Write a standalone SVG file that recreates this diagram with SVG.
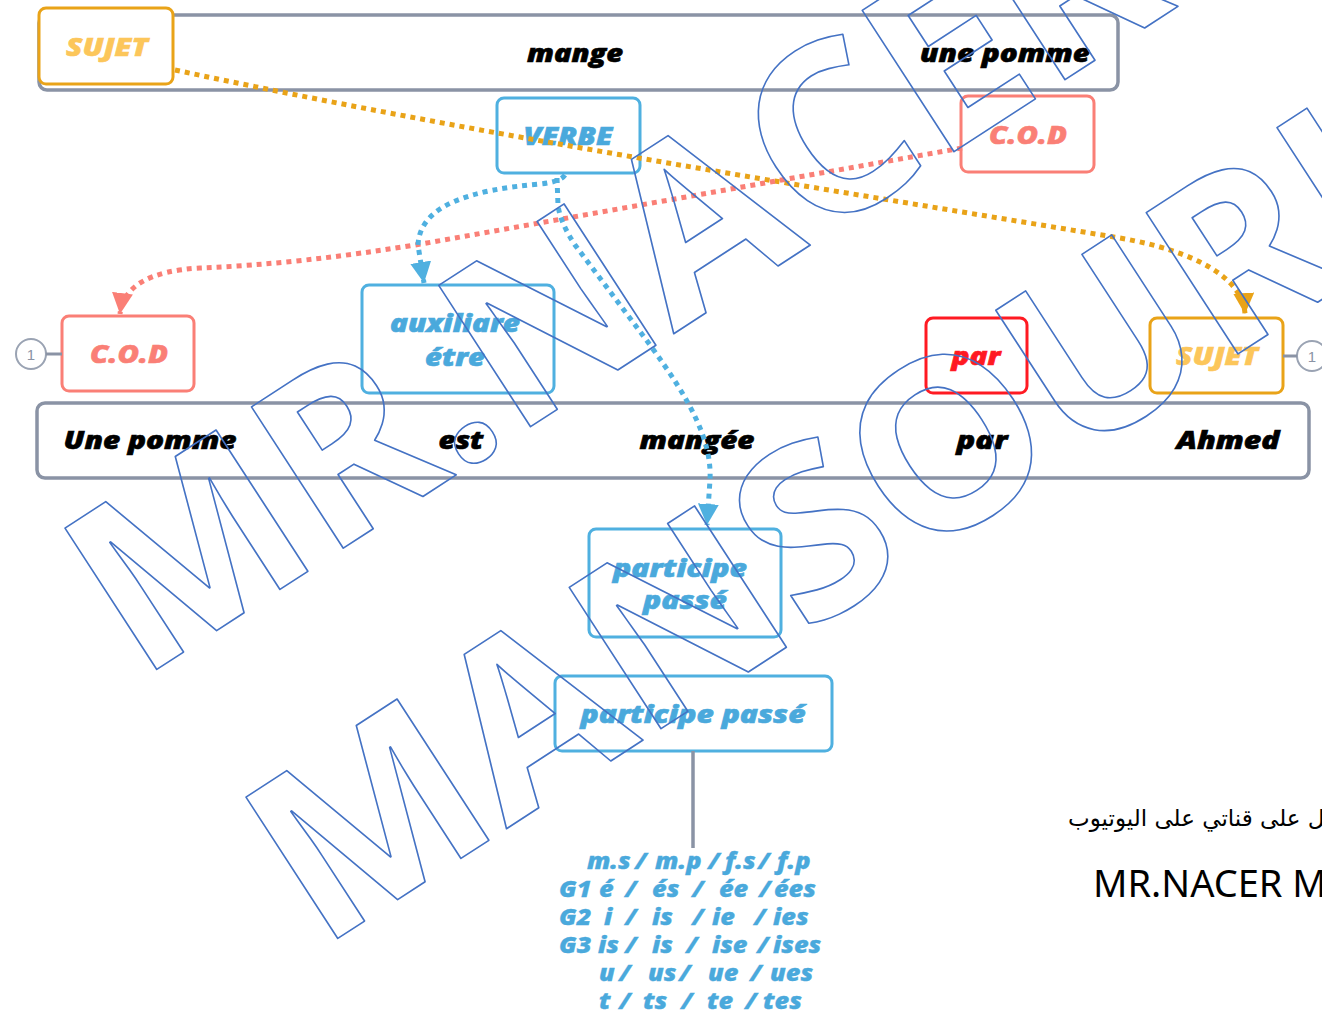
<svg xmlns="http://www.w3.org/2000/svg" width="1322" height="1016" viewBox="0 0 1322 1016">
<defs>
<style>
.t{font-family:"Open Sans","Liberation Sans",sans-serif;font-weight:800;font-style:italic;text-anchor:middle}
.w{font-size:24px;fill:#000;stroke:#000;stroke-width:0.6}
.sent{fill:#fff;stroke:#8a93a5;stroke-width:3.5}
.box{fill:#fff;stroke-width:3}
.or{stroke:#e9a318}
.bl{stroke:#4fb0e0}
.sa{stroke:#fa7f76}
.rd{stroke:#ff1a22}
.tor{fill:#fcc65a;stroke:#fcc65a;stroke-width:0.6}
.tbl{fill:#4aa9dc;stroke:#4aa9dc;stroke-width:0.6}
.tsa{fill:#fa7f76;stroke:#fa7f76;stroke-width:0.6}
.trd{fill:#ff1a22;stroke:#ff1a22;stroke-width:0.6}
.dot{fill:none;stroke-width:5;stroke-dasharray:5 5}
.num{fill:#fff;stroke:#9aa3b3;stroke-width:2}
.numt{font-family:"Liberation Sans",sans-serif;font-size:15px;fill:#8a93a5;text-anchor:middle}
.lst{font-family:"Open Sans","Liberation Sans",sans-serif;font-weight:800;font-style:italic;font-size:22px;fill:#4aa9dc;stroke:#4aa9dc;stroke-width:0.3}
.wm{font-family:"Open Sans","Liberation Sans",sans-serif;font-weight:700;font-size:236px;fill:none;stroke:#4472c4;stroke-width:1.6;stroke-linejoin:round}
</style>
<marker id="aor" viewBox="0 0 10 10" refX="10" refY="5" markerWidth="21" markerHeight="21" markerUnits="userSpaceOnUse" orient="auto"><path d="M0,0 L10,5 L0,10 z" fill="#e9a318"/></marker>
<marker id="asa" viewBox="0 0 10 10" refX="10" refY="5" markerWidth="21" markerHeight="21" markerUnits="userSpaceOnUse" orient="auto"><path d="M0,0 L10,5 L0,10 z" fill="#fa7f76"/></marker>
<marker id="abl" viewBox="0 0 10 10" refX="10" refY="5" markerWidth="21" markerHeight="21" markerUnits="userSpaceOnUse" orient="auto"><path d="M0,0 L10,5 L0,10 z" fill="#4fb0e0"/></marker>
</defs>
<rect width="1322" height="1016" fill="#fff"/>

<g id="sentence-active">
<rect class="sent" x="39" y="15" width="1079" height="75" rx="8"/>
<text class="t w" x="575" y="62" textLength="96" lengthAdjust="spacingAndGlyphs">mange</text>
<text class="t w" x="1005" y="62" textLength="170" lengthAdjust="spacingAndGlyphs">une pomme</text>
</g>

<g id="sentence-passive">
<rect class="sent" x="37" y="403" width="1272" height="75" rx="8"/>
<text class="t w" x="150" y="449" textLength="173" lengthAdjust="spacingAndGlyphs">Une pomme</text>
<text class="t w" x="461" y="449" textLength="45" lengthAdjust="spacingAndGlyphs">est</text>
<text class="t w" x="697" y="449" textLength="115" lengthAdjust="spacingAndGlyphs">mangée</text>
<text class="t w" x="982" y="449" textLength="51" lengthAdjust="spacingAndGlyphs">par</text>
<text class="t w" x="1228" y="449" textLength="103" lengthAdjust="spacingAndGlyphs">Ahmed</text>
</g>

<g id="sujet-top">
<rect class="box or" x="39" y="8" width="134" height="76" rx="7"/>
<text class="t tor" x="107" y="56" font-size="25" textLength="82" lengthAdjust="spacingAndGlyphs">SUJET</text>
</g>
<g id="verbe">
<rect class="box bl" x="497" y="98" width="143" height="75" rx="7"/>
<text class="t tbl" x="568" y="145" font-size="25" textLength="89" lengthAdjust="spacingAndGlyphs">VERBE</text>
</g>
<g id="cod-top">
<rect class="box sa" x="961" y="96" width="133" height="76" rx="7"/>
<text class="t tsa" x="1028" y="144" font-size="25" textLength="78" lengthAdjust="spacingAndGlyphs">C.O.D</text>
</g>

<g id="num-left">
<circle class="num" cx="31" cy="354" r="15"/>
<text class="numt" x="31" y="360">1</text>
</g>
<g id="cod-bottom">
<rect class="box sa" x="62" y="316" width="132" height="75" rx="7"/>
<text class="t tsa" x="129" y="363" font-size="25" textLength="78" lengthAdjust="spacingAndGlyphs">C.O.D</text>
</g>
<g id="auxiliaire">
<rect class="box bl" x="362" y="285" width="192" height="108" rx="7"/>
<text class="t tbl" x="455" y="332" font-size="24" textLength="130" lengthAdjust="spacingAndGlyphs">auxiliare</text>
<text class="t tbl" x="455" y="366" font-size="24" textLength="60" lengthAdjust="spacingAndGlyphs">étre</text>
</g>
<g id="par">
<rect class="box rd" x="926" y="318" width="101" height="75" rx="7"/>
<text class="t trd" x="976" y="365" font-size="24" textLength="49" lengthAdjust="spacingAndGlyphs">par</text>
</g>
<g id="sujet-bottom">
<rect class="box or" x="1150" y="318" width="133" height="75" rx="7"/>
<text class="t tor" x="1217" y="365" font-size="25" textLength="82" lengthAdjust="spacingAndGlyphs">SUJET</text>
</g>
<g id="num-right">
<circle class="num" cx="1312" cy="356" r="15"/>
<text class="numt" x="1312" y="362">1</text>
</g>

<g id="participe-1">
<rect class="box bl" x="589" y="529" width="192" height="108" rx="7"/>
<text class="t tbl" x="680" y="577" font-size="25" textLength="134" lengthAdjust="spacingAndGlyphs">participe</text>
<text class="t tbl" x="685" y="609" font-size="25" textLength="84" lengthAdjust="spacingAndGlyphs">passé</text>
</g>
<g id="participe-2">
<rect class="box bl" x="555" y="676" width="277" height="75" rx="7"/>
<text class="t tbl" x="693" y="723" font-size="25" textLength="225" lengthAdjust="spacingAndGlyphs">participe passé</text>
</g>

<g id="connectors">
<path class="dot or" d="M175,70 C 480,135 800,185 1120,238 C 1200,252 1243,280 1245,314" marker-end="url(#aor)"/>
<path class="dot sa" d="M962,148 L 421,244 Q 300,264 200,268 Q 125,272 120,314" marker-end="url(#asa)"/>
<path class="dot bl" d="M565,175 Q 560,182 540,184 C 470,190 420,205 418,245 L 424,283" marker-end="url(#abl)"/>
<path class="dot bl" d="M557,178 L 558,205 Q 560,222 575,245 L 650,345 C 690,400 712,440 710,480 L 707,525" marker-end="url(#abl)"/>
<line x1="46" y1="354" x2="62" y2="354" stroke="#8a93a5" stroke-width="3"/>
<line x1="1283" y1="356" x2="1297" y2="356" stroke="#8a93a5" stroke-width="3"/>
<line x1="693" y1="751" x2="693" y2="848" stroke="#8a93a5" stroke-width="3.5"/>
</g>

<g id="endings" transform="scale(1.15,1)">
<text class="lst" y="869"><tspan x="510.4">m.s</tspan><tspan x="552.2">/</tspan><tspan x="569.6">m.p</tspan><tspan x="615.7">/</tspan><tspan x="630.4">f.s</tspan><tspan x="659.1">/</tspan><tspan x="675.7">f.p</tspan></text>
<text class="lst" y="897"><tspan x="486.1">G1</tspan><tspan x="520.9">é</tspan><tspan x="543.5">/</tspan><tspan x="567">és</tspan><tspan x="601.7">/</tspan><tspan x="625.2">ée</tspan><tspan x="660">/</tspan><tspan x="673">ées</tspan></text>
<text class="lst" y="925"><tspan x="486.1">G2</tspan><tspan x="525.2">i</tspan><tspan x="543.5">/</tspan><tspan x="567">is</tspan><tspan x="601.7">/</tspan><tspan x="619.1">ie</tspan><tspan x="655.7">/</tspan><tspan x="672.2">ies</tspan></text>
<text class="lst" y="953"><tspan x="486.1">G3</tspan><tspan x="520">is</tspan><tspan x="543.5">/</tspan><tspan x="567">is</tspan><tspan x="596.5">/</tspan><tspan x="619.1">ise</tspan><tspan x="658.3">/</tspan><tspan x="672.2">ises</tspan></text>
<text class="lst" y="981"><tspan x="520.9">u</tspan><tspan x="538.3">/</tspan><tspan x="563.5">us</tspan><tspan x="590.4">/</tspan><tspan x="615.7">ue</tspan><tspan x="652.2">/</tspan><tspan x="669.6">ues</tspan></text>
<text class="lst" y="1009"><tspan x="520.9">t</tspan><tspan x="538.3">/</tspan><tspan x="559.1">ts</tspan><tspan x="592.2">/</tspan><tspan x="614.8">te</tspan><tspan x="647.8">/</tspan><tspan x="663.5">tes</tspan></text>
</g>

<g id="credits">
<text x="1068" y="826" font-family="'DejaVu Sans','Liberation Sans',sans-serif" font-size="23" fill="#000">&#x200D;ل على قناتي على اليوتيوب</text>
<text x="1093" y="897" font-family="'Noto Sans','Liberation Sans',sans-serif" font-size="38" fill="#000">MR.NACER M</text>
</g>

<g id="watermark">
<text class="wm" transform="translate(139,681) rotate(-33)">MR.NACER</text>
<text class="wm" transform="translate(320,950) rotate(-33)">MANSOURI</text>
</g>
</svg>
